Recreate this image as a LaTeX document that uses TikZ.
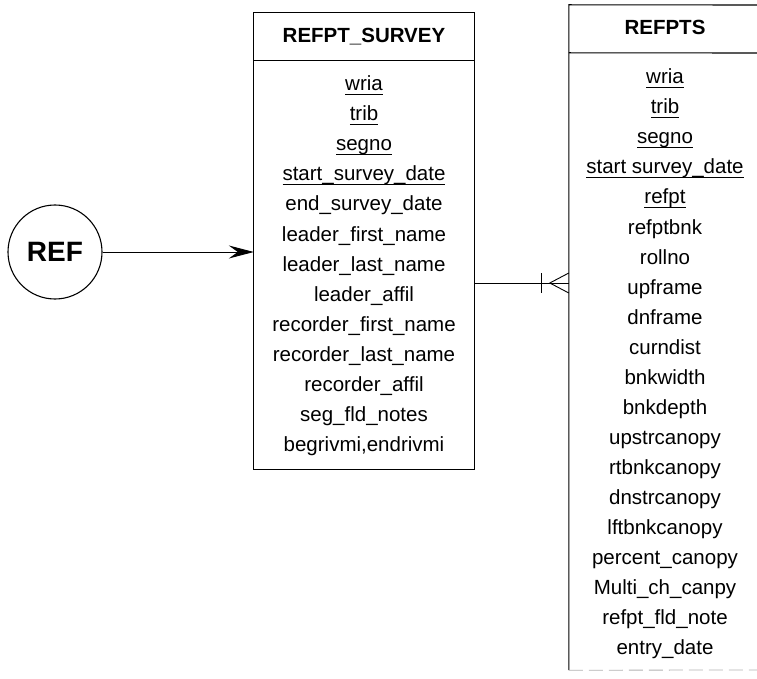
\documentclass[tikz,border=0pt]{standalone}
\usepackage{fontspec}
\setmainfont{Liberation Sans}
\usetikzlibrary{arrows.meta}
\newcommand\keyfld[1]{\setbox0\hbox{#1}\rlap{\rule[-4.4pt]{\wd0}{1.3pt}}\box0}
\tikzset{
  tblbox/.style={draw=none, rectangle, inner sep=0pt},
  tblline/.style={line width=1.1pt, black},
  fld/.style={inner sep=0pt, anchor=base, font=\fontsize{20.5}{20.5}\selectfont},
  hdr/.style={inner sep=0pt, anchor=base, font=\bfseries\fontsize{20.5}{20.5}\selectfont},
  conn/.style={line width=0.9pt, black},
  entity/.style={circle, draw, line width=1.1pt, minimum size=94pt, inner sep=0pt,
                 font=\bfseries\fontsize{28}{28}\selectfont},
}
\begin{document}
\begin{tikzpicture}[x=1pt,y=-1pt]
\useasboundingbox (0,0) rectangle (757,679);

% left table REFPT_SURVEY
\node[tblbox, minimum width=220pt, minimum height=456pt] (ls) at (364,241) {};
\draw[tblline] (ls.north west) rectangle (ls.south east);
\draw[tblline] ([yshift=-48pt]ls.north west) -- ([yshift=-48pt]ls.north east);
\node[hdr] (lsh) at (364,43) {REFPT\_SURVEY};
\foreach \t [count=\i] in {\keyfld{wria},\keyfld{trib},\keyfld{segno},
  \keyfld{start\_survey\_date},end\_survey\_date,leader\_first\_name,
  leader\_last\_name,leader\_affil,recorder\_first\_name,recorder\_last\_name,
  recorder\_affil,seg\_fld\_notes,begrivmi{,}endrivmi}
  \node[fld] (l\i) at (364,{91+30*(\i-1)}) {\t};

% right table REFPTS
\node[tblbox, minimum width=192pt, minimum height=665pt] (rb) at (665,337.5) {};
\draw[tblline] (rb.south west) -- (rb.north west) -- (757,5);
\draw[tblline] ([yshift=-48pt]rb.north west) -- (757,53);
\draw[gray!60, line width=0.8pt, dash pattern=on 14pt off 6pt] (rb.south west) -- (757,670);
\node[hdr] (rbh) at (665,35) {REFPTS};
\foreach \t [count=\i] in {\keyfld{wria},\keyfld{trib},\keyfld{segno},
  \keyfld{start survey\_date},\keyfld{refpt},refptbnk,rollno,upframe,dnframe,
  curndist,bnkwidth,bnkdepth,upstrcanopy,rtbnkcanopy,dnstrcanopy,lftbnkcanopy,
  percent\_canopy,Multi\_ch\_canpy,refpt\_fld\_note,entry\_date}
  \node[fld] (r\i) at (665,{84+30*(\i-1)}) {\t};

% entity REF
\node[entity] (ref) at (55,252) {REF};
\draw[conn, -{Stealth[length=25pt,width=13pt,inset=9pt]}] (ref.east) -- (ref.east -| ls.west);

% relationship: one-and-only-one to one-or-many
\path (ls.east) ++(0,42) coordinate (cA);
\coordinate (cB) at (cA -| rb.west);
\draw[conn] (cA) -- (cB);
\draw[conn] ([xshift=-27pt,yshift=10pt]cB) -- ([xshift=-27pt,yshift=-10pt]cB);
\draw[conn] ([yshift=10pt]cB) -- ([xshift=-19pt]cB) -- ([yshift=-10pt]cB);
\end{tikzpicture}
\end{document}
